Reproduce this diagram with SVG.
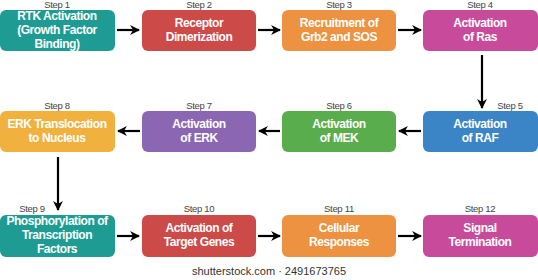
<svg xmlns="http://www.w3.org/2000/svg" width="538" height="280" viewBox="0 0 538 280">
<style>
.box{stroke:none}
.t{font-family:"Liberation Sans",Arial,sans-serif;font-weight:bold;font-size:12px;fill:#fff;text-anchor:middle;letter-spacing:-0.45px}
.s{font-family:"Liberation Sans",Arial,sans-serif;font-size:9.5px;fill:#444;text-anchor:middle;letter-spacing:-0.3px}
.c{stroke:#000;stroke-width:2.2;fill:none;marker-end:url(#ah)}
.w{font-family:"Liberation Sans",Arial,sans-serif;font-size:11px;fill:#333;text-anchor:middle}
</style>
<defs>
<marker id="ah" viewBox="0 0 10 10" refX="9" refY="5" markerWidth="4.5" markerHeight="4.5" orient="auto" markerUnits="strokeWidth">
<path d="M0,0 L10,5 L0,10 L3,5 Z" fill="#000"/>
</marker>
</defs>
<rect width="538" height="280" fill="#fff"/>
<g id="connectors">
<line class="c" x1="117" y1="30" x2="139" y2="30"/>
<line class="c" x1="258" y1="30" x2="280" y2="30"/>
<line class="c" x1="398" y1="30" x2="421" y2="30"/>
<line class="c" x1="482" y1="55" x2="482" y2="108"/>
<line class="c" x1="421" y1="131" x2="399" y2="131"/>
<line class="c" x1="280" y1="131" x2="259" y2="131"/>
<line class="c" x1="140" y1="131" x2="118" y2="131"/>
<line class="c" x1="58" y1="157" x2="58" y2="210"/>
<line class="c" x1="117" y1="236" x2="139" y2="236"/>
<line class="c" x1="258" y1="236" x2="280" y2="236"/>
<line class="c" x1="398" y1="236" x2="421" y2="236"/>
</g>
<g id="n1"><text class="s" x="57" y="8">Step 1</text><rect class="box" x="0" y="10" width="115" height="41" rx="6" fill="#1e9c93"/><text class="t" x="57" y="20">RTK Activation</text><text class="t" x="57" y="34">(Growth Factor</text><text class="t" x="57" y="48">Binding)</text></g>
<g id="n2"><text class="s" x="199" y="8">Step 2</text><rect class="box" x="142" y="10" width="114" height="41" rx="6" fill="#cc4a48"/><text class="t" x="199" y="27">Receptor</text><text class="t" x="199" y="41">Dimerization</text></g>
<g id="n3"><text class="s" x="339" y="8">Step 3</text><rect class="box" x="282" y="10" width="114" height="41" rx="6" fill="#ec9240"/><text class="t" x="339" y="27">Recruitment of</text><text class="t" x="339" y="41">Grb2 and SOS</text></g>
<g id="n4"><text class="s" x="480" y="8">Step 4</text><rect class="box" x="423" y="10" width="115" height="41" rx="6" fill="#c84b9b"/><text class="t" x="480" y="27">Activation</text><text class="t" x="480" y="41">of Ras</text></g>
<g id="n5"><text class="s" x="510" y="109">Step 5</text><rect class="box" x="423" y="111" width="115" height="41" rx="6" fill="#3b85c7"/><text class="t" x="480" y="128">Activation</text><text class="t" x="480" y="142">of RAF</text></g>
<g id="n6"><text class="s" x="339" y="109">Step 6</text><rect class="box" x="282" y="111" width="114" height="41" rx="6" fill="#5aad4c"/><text class="t" x="339" y="128">Activation</text><text class="t" x="339" y="142">of MEK</text></g>
<g id="n7"><text class="s" x="199" y="109">Step 7</text><rect class="box" x="142" y="111" width="114" height="41" rx="6" fill="#8b67b3"/><text class="t" x="199" y="128">Activation</text><text class="t" x="199" y="142">of ERK</text></g>
<g id="n8"><text class="s" x="57" y="109">Step 8</text><rect class="box" x="0" y="111" width="115" height="41" rx="6" fill="#f1b13e"/><text class="t" x="57" y="128">ERK Translocation</text><text class="t" x="57" y="142">to Nucleus</text></g>
<g id="n9"><text class="s" x="32" y="212">Step 9</text><rect class="box" x="0" y="215" width="115" height="42" rx="6" fill="#1e9c93"/><text class="t" x="57" y="225">Phosphorylation of</text><text class="t" x="57" y="239">Transcription</text><text class="t" x="57" y="253">Factors</text></g>
<g id="n10"><text class="s" x="199" y="212">Step 10</text><rect class="box" x="142" y="215" width="114" height="42" rx="6" fill="#cc4a48"/><text class="t" x="199" y="232">Activation of</text><text class="t" x="199" y="246">Target Genes</text></g>
<g id="n11"><text class="s" x="339" y="212">Step 11</text><rect class="box" x="282" y="215" width="114" height="42" rx="6" fill="#ec9240"/><text class="t" x="339" y="232">Cellular</text><text class="t" x="339" y="246">Responses</text></g>
<g id="n12"><text class="s" x="480" y="212">Step 12</text><rect class="box" x="423" y="215" width="115" height="42" rx="6" fill="#c84b9b"/><text class="t" x="480" y="232">Signal</text><text class="t" x="480" y="246">Termination</text></g>
<text class="w" x="269" y="275">shutterstock.com · 2491673765</text>
</svg>
